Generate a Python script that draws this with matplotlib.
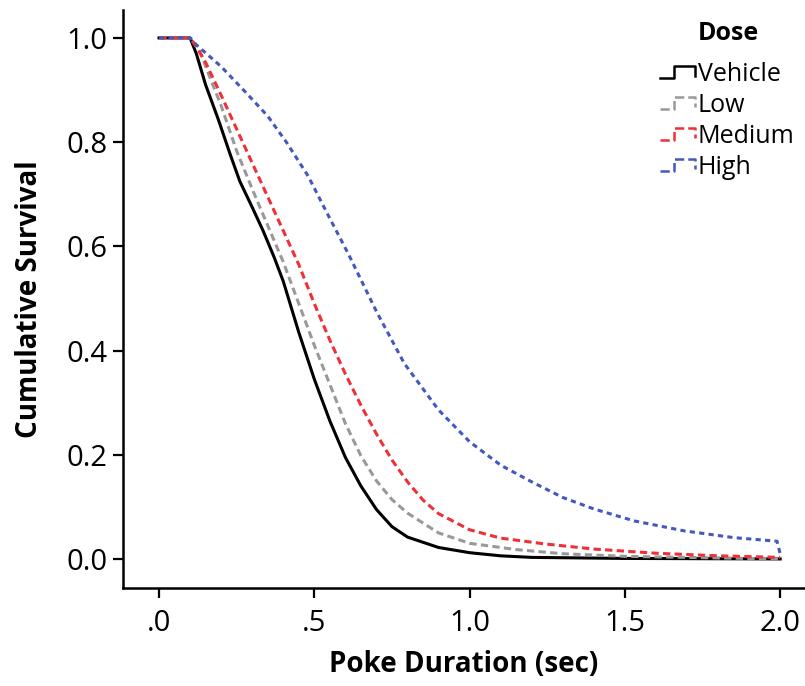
import matplotlib
matplotlib.use('Agg')
import matplotlib.pyplot as plt
from matplotlib.lines import Line2D
from matplotlib.legend_handler import HandlerBase

plt.rcParams['font.family'] = ['Open Sans', 'DejaVu Sans']

# survival curves (time in sec, cumulative survival)
veh_t = [0.0, 0.1, 0.12, 0.15, 0.19, 0.23, 0.26, 0.3, 0.335, 0.37, 0.4, 0.45, 0.5, 0.55,
         0.6, 0.65, 0.7, 0.75, 0.8, 0.9, 1.0, 1.1, 1.2, 1.5, 2.0]
veh_s = [1.0, 1.0, 0.97, 0.91, 0.845, 0.775, 0.725, 0.675, 0.63, 0.58, 0.533, 0.435, 0.345, 0.265,
         0.195, 0.14, 0.095, 0.062, 0.042, 0.022, 0.012, 0.006, 0.003, 0.001, 0.0]

low_t = [0.0, 0.1, 0.13, 0.16, 0.2, 0.25, 0.3, 0.35, 0.4, 0.45, 0.5, 0.55, 0.6, 0.65,
         0.7, 0.75, 0.8, 0.9, 1.0, 1.15, 1.3, 1.5, 2.0]
low_s = [1.0, 1.0, 0.977, 0.93, 0.87, 0.783, 0.71, 0.64, 0.57, 0.49, 0.41, 0.335, 0.26, 0.198,
         0.15, 0.114, 0.088, 0.05, 0.03, 0.018, 0.01, 0.005, 0.0]

med_t = [0.0, 0.1, 0.12, 0.15, 0.2, 0.25, 0.3, 0.35, 0.4, 0.45, 0.5, 0.55, 0.6, 0.65, 0.7,
         0.75, 0.8, 0.85, 0.9, 1.0, 1.1, 1.24, 1.4, 1.6, 1.8, 2.0]
med_s = [1.0, 1.0, 0.983, 0.953, 0.89, 0.825, 0.76, 0.695, 0.63, 0.565, 0.49, 0.42, 0.355, 0.295, 0.24,
         0.19, 0.148, 0.113, 0.087, 0.056, 0.04, 0.029, 0.019, 0.011, 0.006, 0.003]

high_t = [0.0, 0.1, 0.12, 0.2, 0.28, 0.35, 0.41, 0.48, 0.54, 0.61, 0.7, 0.79, 0.9, 1.0,
          1.1, 1.2, 1.3, 1.4, 1.53, 1.69, 1.85, 1.99, 2.0]
high_s = [1.0, 1.0, 0.987, 0.945, 0.895, 0.85, 0.80, 0.735, 0.665, 0.585, 0.475, 0.375, 0.286, 0.225,
          0.18, 0.148, 0.118, 0.096, 0.073, 0.054, 0.041, 0.034, 0.01]

labels = ['Vehicle', 'Low', 'Medium', 'High']
colors = ['black', '#999999', '#ee3038', '#4458bd']
styles = ['-', (0, (2.4, 1.4)), (0, (2.4, 1.4)), (0, (1.7, 1.4))]


class StepHandler(HandlerBase):
    # little step glyph like the SPSS legend keys
    def create_artists(self, legend, orig, xd, yd, w, h, fontsize, trans):
        xs = [xd, xd + 0.4 * w, xd + 0.4 * w, xd + w, xd + w]
        ys = [yd + 0.15 * h, yd + 0.15 * h, yd + 0.85 * h, yd + 0.85 * h, yd + 0.3 * h]
        ln = Line2D(xs, ys, color=orig.get_color(), linestyle=orig.get_linestyle(),
                    linewidth=1.8, transform=trans)
        return [ln]


fig = plt.figure(figsize=(8.05, 6.86), dpi=100)
ax = fig.add_axes([0.1528, 0.1429, 0.8472, 0.8426])

data = [(veh_t, veh_s), (low_t, low_s), (med_t, med_s), (high_t, high_s)]
lines = []
for (t, s), lab, c, ls in zip(data, labels, colors, styles):
    ln, = ax.plot(t, s, color=c, linestyle=ls, linewidth=2.2, label=lab)
    lines.append(ln)

ax.set_xlim(-0.116, 2.08)
ax.set_ylim(-0.0557, 1.0537)
ax.set_xticks([0, 0.5, 1.0, 1.5, 2.0])
ax.set_xticklabels(['.0', '.5', '1.0', '1.5', '2.0'])
ax.set_yticks([0, 0.2, 0.4, 0.6, 0.8, 1.0])
ax.set_yticklabels(['0.0', '0.2', '0.4', '0.6', '0.8', '1.0'])
ax.tick_params(direction='out', length=7, width=1.6, labelsize=21)
ax.tick_params(axis='y', pad=4)
ax.tick_params(axis='x', pad=8)
for sp in ['top', 'right']:
    ax.spines[sp].set_visible(False)
for sp in ['left', 'bottom']:
    ax.spines[sp].set_linewidth(1.8)

ax.set_xlabel('Poke Duration (sec)', fontsize=20, fontweight='bold', labelpad=9)
ax.set_ylabel('Cumulative Survival', fontsize=20, fontweight='bold', labelpad=16)

fig.text(728 / 805, 1 - 33 / 686, 'Dose', ha='center', va='center',
         fontsize=18, fontweight='bold')
leg = fig.legend(handles=lines, loc='upper left',
                 bbox_to_anchor=(660 / 805, 1 - 62 / 686), frameon=False, fontsize=18,
                 borderpad=0, borderaxespad=0,
                 handlelength=1.4, handletextpad=0.1, labelspacing=0.24,
                 handler_map={Line2D: StepHandler()})

fig.savefig('out.png', dpi=100)
